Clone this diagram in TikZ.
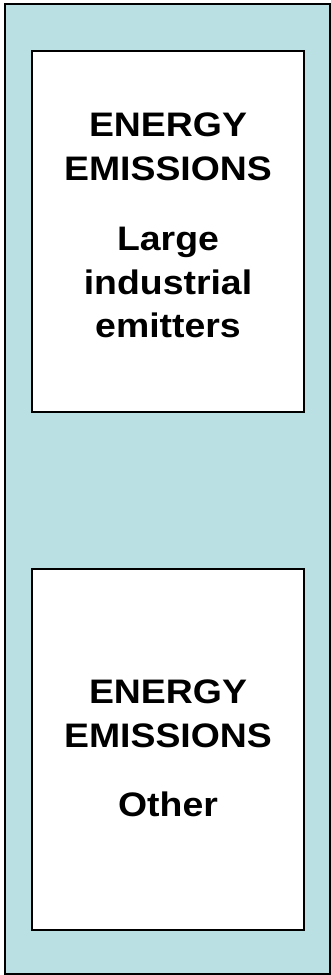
\documentclass[tikz,border=0pt]{standalone}
\usepackage{fontspec}
\setmainfont{Liberation Sans}
\definecolor{panelblue}{RGB}{187,224,227}
\tikzset{
  panel/.style={draw=black, line width=2pt, fill=panelblue},
  card/.style={draw=black, line width=2pt, fill=white},
  txt/.style={anchor=base, inner sep=0pt, font=\fontsize{34}{40}\selectfont\bfseries},
}
\newcommand{\wide}[1]{\scalebox{1.1}[1]{#1}}
\begin{document}
\begin{tikzpicture}[x=1pt,y=-1pt]
\useasboundingbox (0,0) rectangle (331,975);
\path[panel] (5,4) rectangle (329.5,974);
\path[card] (32,51) rectangle (304.3,412);
\path[card] (32,569.3) rectangle (304.3,929.7);
\node[txt] (a1) at (168,136) {\wide{ENERGY}};
\node[txt] (a2) at (168,180) {\wide{EMISSIONS}};
\node[txt] (a3) at (168,250) {\wide{Large}};
\node[txt] (a4) at (168,294) {\wide{industrial}};
\node[txt] (a5) at (168,337) {\wide{emitters}};
\node[txt] (b1) at (168,703) {\wide{ENERGY}};
\node[txt] (b2) at (168,747) {\wide{EMISSIONS}};
\node[txt] (b3) at (168,816) {\wide{Other}};
\end{tikzpicture}
\end{document}
